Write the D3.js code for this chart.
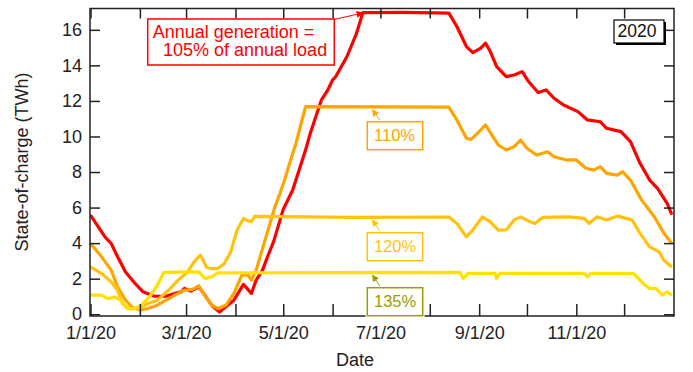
<!DOCTYPE html>
<html>
<head>
<meta charset="utf-8">
<script src="https://cdn.jsdelivr.net/npm/d3@7"></script>
<style>
	body { margin: 0; background: #fff; }
	svg { display: block; font-family: "Liberation Sans", Arial, Helvetica, sans-serif; }
	.axis line { stroke: #222; stroke-width: 1.5; }
	.axis text { fill: #222; font-size: 18px; }
	.series { fill: none; stroke-width: 3.2; stroke-linejoin: round; }
</style>
</head>
<body>
<svg id="chart" width="693" height="372"></svg>
<script>

// state of charge readings (TWh), one array of dates and one of values per case
const dates105 = ["2020-01-01","2020-01-06","2020-01-10","2020-01-14","2020-01-18","2020-01-23","2020-01-29","2020-02-03","2020-02-10","2020-02-17","2020-02-23","2020-02-27","2020-02-29","2020-03-04","2020-03-09","2020-03-12","2020-03-17","2020-03-22","2020-03-25","2020-03-31","2020-04-06","2020-04-11","2020-04-14","2020-04-18","2020-04-21","2020-04-25","2020-05-01","2020-05-07","2020-05-15","2020-05-18","2020-05-25","2020-05-29","2020-06-01","2020-06-03","2020-06-10","2020-06-16","2020-06-20","2020-07-15","2020-08-13","2020-08-18","2020-08-24","2020-08-28","2020-09-02","2020-09-05","2020-09-08","2020-09-12","2020-09-18","2020-09-23","2020-09-28","2020-10-02","2020-10-08","2020-10-13","2020-10-18","2020-10-24","2020-11-02","2020-11-08","2020-11-16","2020-11-20","2020-11-29","2020-12-05","2020-12-11","2020-12-17","2020-12-22","2020-12-28","2020-12-31"];
const values105 = [5.58,4.9,4.36,3.98,3.23,2.38,1.73,1.26,1.01,1.01,1.17,1.26,1.45,1.3,1.54,1.17,0.51,0.13,0.35,0.79,1.68,1.17,1.92,2.48,3.2,4.1,5.9,7.0,9.24,10.18,12.06,12.62,13.18,13.37,14.5,15.8,16.97,16.98,16.94,16.19,15.06,14.72,14.97,15.25,14.78,13.93,13.37,13.46,13.65,13.09,12.47,12.62,12.15,11.77,11.4,10.93,10.83,10.46,10.27,9.71,8.49,7.55,7.08,6.24,5.6];

const dates110 = ["2020-01-01","2020-01-08","2020-01-14","2020-01-18","2020-01-23","2020-01-27","2020-02-01","2020-02-06","2020-02-12","2020-02-19","2020-02-25","2020-02-29","2020-03-05","2020-03-09","2020-03-12","2020-03-17","2020-03-21","2020-03-26","2020-03-31","2020-04-05","2020-04-09","2020-04-11","2020-04-14","2020-04-21","2020-04-26","2020-04-29","2020-05-02","2020-05-05","2020-05-09","2020-05-15","2020-07-01","2020-08-13","2020-08-18","2020-08-24","2020-08-27","2020-09-01","2020-09-05","2020-09-09","2020-09-13","2020-09-18","2020-09-23","2020-09-27","2020-10-01","2020-10-07","2020-10-14","2020-10-18","2020-10-26","2020-11-01","2020-11-07","2020-11-12","2020-11-16","2020-11-20","2020-11-27","2020-11-30","2020-12-05","2020-12-12","2020-12-20","2020-12-26","2020-12-31"];
const values110 = [3.98,3.23,2.48,1.54,0.79,0.41,0.23,0.32,0.51,0.88,1.17,1.35,1.4,1.6,1.17,0.51,0.32,0.5,1.17,2.2,2.2,1.92,2.48,4.6,6.1,6.8,7.6,8.49,9.62,11.68,11.66,11.65,10.93,9.9,9.84,10.27,10.65,10.08,9.52,9.24,9.43,9.8,9.34,8.96,9.14,8.86,8.68,8.68,8.21,8.11,8.3,7.92,7.83,8.02,7.55,6.42,5.48,4.55,3.98];

const dates120 = ["2020-01-01","2020-01-08","2020-01-14","2020-01-18","2020-01-21","2020-01-25","2020-01-31","2020-02-06","2020-02-12","2020-02-19","2020-02-25","2020-03-02","2020-03-06","2020-03-10","2020-03-14","2020-03-17","2020-03-21","2020-03-25","2020-03-29","2020-04-02","2020-04-06","2020-04-09","2020-04-11","2020-04-13","2020-06-15","2020-08-13","2020-08-18","2020-08-24","2020-08-28","2020-09-03","2020-09-08","2020-09-13","2020-09-18","2020-09-23","2020-09-27","2020-10-03","2020-10-06","2020-10-11","2020-10-27","2020-11-06","2020-11-09","2020-11-14","2020-11-20","2020-11-27","2020-12-06","2020-12-11","2020-12-17","2020-12-23","2020-12-26","2020-12-31"];
const values120 = [2.66,2.29,1.82,1.35,0.6,0.32,0.32,0.6,0.79,1.35,1.92,2.38,2.95,3.32,2.63,2.57,2.57,2.86,3.5,4.73,5.39,5.25,5.2,5.5,5.45,5.47,5.11,4.36,4.73,5.48,5.2,4.73,4.75,5.3,5.48,5.2,5.11,5.45,5.48,5.39,5.11,5.48,5.3,5.52,5.3,4.55,3.79,3.51,3.04,2.66];

const dates135 = ["2020-01-01","2020-01-08","2020-01-12","2020-01-16","2020-01-20","2020-01-24","2020-01-29","2020-02-02","2020-02-07","2020-02-12","2020-02-16","2020-03-09","2020-03-13","2020-03-17","2020-03-21","2020-06-01","2020-08-20","2020-08-22","2020-08-25","2020-09-11","2020-09-12","2020-09-14","2020-11-06","2020-11-08","2020-11-10","2020-12-07","2020-12-13","2020-12-17","2020-12-21","2020-12-25","2020-12-28","2020-12-31"];
const values135 = [1.07,1.07,0.88,0.97,0.79,0.32,0.32,0.51,0.97,1.63,2.35,2.38,2.0,2.1,2.33,2.34,2.35,2.01,2.3,2.3,2.01,2.3,2.3,2.1,2.3,2.29,1.73,1.45,1.45,1.07,1.26,1.07];

const yTicks = [0, 2, 4, 6, 8, 10, 12, 14, 16];

const parseDate = d3.timeParse("%Y-%m-%d");

let series = [
	{ name: "105%", color: "#ff0000", dates: dates105, values: values105 },
	{ name: "110%", color: "#ffa500", dates: dates110, values: values110 },
	{ name: "120%", color: "#ffc20e", dates: dates120, values: values120 },
	{ name: "135%", color: "#ffe100", dates: dates135, values: values135 }
];

let svg = d3.select("#chart");
let plotLeft = 90, plotRight = 674, plotTop = 8.5, plotBottom = 316;

let x = d3.scaleTime()
	.domain([parseDate("2020-01-01"), parseDate("2021-01-01")])
	.range([plotLeft + 0.5, plotRight - 0.5]);
let y = d3.scaleLinear().domain([-0.1, 17.2]).range([plotBottom, plotTop]);

let line = d3.line()
	.x(function (d) { return x(d.date); })
	.y(function (d) { return y(d.value); });

series.forEach(function (s) {
	let pts = s.dates.map(function (dt, i) { return { date: parseDate(dt), value: s.values[i] }; });
	svg.append("path")
		.datum(pts)
		.attr("class", "series")
		.attr("stroke", s.color)
		.attr("d", line);
});

// frame and ticks (ticks point inward on all four sides)
let months = d3.timeMonth.range(parseDate("2020-01-01"), parseDate("2021-01-01"));
let fmt = d3.timeFormat("%-m/%-d/%y");

svg.append("g")
	.attr("class", "axis")
	.attr("transform", "translate(0," + plotBottom + ")")
	.call(d3.axisBottom(x).tickValues(months).tickSize(-12).tickPadding(10)
		.tickFormat(function (d) { return d.getMonth() % 2 === 0 ? fmt(d) : ""; }))
	.call(g => g.select(".domain").remove());

svg.append("g")
	.attr("class", "axis")
	.attr("transform", "translate(0," + plotTop + ")")
	.call(d3.axisTop(x).tickValues(months).tickSize(-10).tickFormat(""))
	.call(g => g.select(".domain").remove());

svg.append("g")
	.attr("class", "axis")
	.attr("transform", "translate(" + plotLeft + ",0)")
	.call(d3.axisLeft(y).tickValues(yTicks).tickSize(-10).tickPadding(8))
	.call(g => g.select(".domain").remove());

svg.append("g")
	.attr("class", "axis")
	.attr("transform", "translate(" + plotRight + ",0)")
	.call(d3.axisRight(y).tickValues(yTicks).tickSize(-10).tickFormat(""))
	.call(g => g.select(".domain").remove());

svg.append("rect")
	.attr("x", plotLeft).attr("y", plotTop)
	.attr("width", plotRight - plotLeft).attr("height", plotBottom - plotTop)
	.attr("fill", "none").attr("stroke", "#222").attr("stroke-width", 1.5);

// axis titles
svg.append("text")
	.attr("transform", "translate(28,162) rotate(-90)")
	.attr("text-anchor", "middle")
	.attr("font-size", "18px").attr("fill", "#222")
	.text("State-of-charge (TWh)");

svg.append("text")
	.attr("x", 355).attr("y", 366)
	.attr("text-anchor", "middle")
	.attr("font-size", "18px").attr("fill", "#222")
	.text("Date");

// arrow heads
let defs = svg.append("defs");
function marker(id, color) {
	defs.append("marker")
		.attr("id", id)
		.attr("viewBox", "0 0 10 10")
		.attr("refX", 9).attr("refY", 5)
		.attr("markerWidth", 7).attr("markerHeight", 7)
		.attr("markerUnits", "userSpaceOnUse")
		.attr("orient", "auto")
		.append("path")
		.attr("d", "M0,0L10,5L0,10z")
		.attr("fill", color);
}

// annotation for 105%
marker("arr105", "#ff0000");
svg.append("line")
	.attr("x1", 334).attr("y1", 19.5)
	.attr("x2", x(parseDate("2020-06-20"))).attr("y2", y(16.95))
	.attr("stroke", "#ff0000").attr("stroke-width", 1)
	.attr("marker-end", "url(#arr105)");
svg.append("rect")
	.attr("x", 147.7).attr("y", 19).attr("width", 186.6).attr("height", 46)
	.attr("fill", "#fff").attr("stroke", "#ff0000").attr("stroke-width", 1.5);
svg.append("text")
	.attr("x", 152.7).attr("y", 37.7)
	.attr("font-size", "18px").attr("fill", "#ff0000")
	.text("Annual generation =");
svg.append("text")
	.attr("x", 163).attr("y", 56)
	.attr("font-size", "18px").attr("fill", "#ff0000")
	.text("105% of annual load");

// year tag with shadow
svg.append("rect")
	.attr("x", 616).attr("y", 22).attr("width", 50).attr("height", 23)
	.attr("fill", "#000");
svg.append("rect")
	.attr("x", 614).attr("y", 20).attr("width", 50).attr("height", 23)
	.attr("fill", "#fff").attr("stroke", "#000").attr("stroke-width", 1.2);
svg.append("text")
	.attr("x", 617.5).attr("y", 37)
	.attr("font-size", "17.5px").attr("fill", "#111")
	.text("2020");

// percent labels
let labels = [
	{ text: "110%", color: "#ffa500", boxY: 121.7, tipDate: "2020-06-26", tipValue: 11.5 },
	{ text: "120%", color: "#ffc20e", boxY: 232.7, tipDate: "2020-06-26", tipValue: 5.3 },
	{ text: "135%", color: "#9c9c00", boxY: 287.7, tipDate: "2020-06-26", tipValue: 2.2 }
];

labels.forEach(function (l, i) {
	let id = "arrl" + i;
	marker(id, l.color);
	svg.append("line")
		.attr("x1", 380).attr("y1", l.boxY - 1.5)
		.attr("x2", x(parseDate(l.tipDate))).attr("y2", y(l.tipValue))
		.attr("stroke", l.color).attr("stroke-width", 1)
		.attr("marker-end", "url(#" + id + ")");
	svg.append("rect")
		.attr("x", 365.5).attr("y", l.boxY - 1.5).attr("width", 59).attr("height", 32)
		.attr("fill", "#fff");
	svg.append("rect")
		.attr("x", 367.3).attr("y", l.boxY).attr("width", 55.4).attr("height", 28)
		.attr("fill", "#fff").attr("stroke", l.color).attr("stroke-width", 1.5);
	svg.append("text")
		.attr("x", 374).attr("y", l.boxY + 19.3)
		.attr("font-size", "16.5px").attr("fill", l.color)
		.text(l.text);
});
</script>
</body>
</html>
